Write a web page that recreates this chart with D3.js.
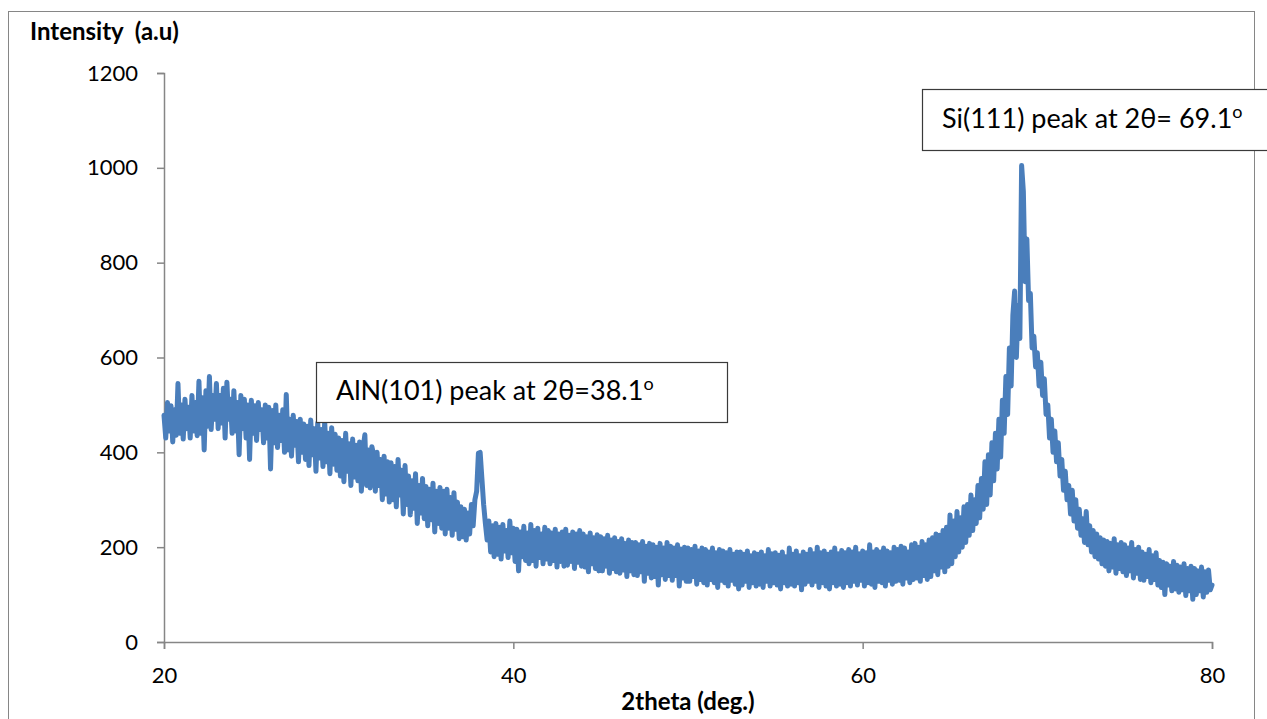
<!DOCTYPE html>
<html>
<head>
<meta charset="utf-8">
<script src="https://cdn.jsdelivr.net/npm/d3@7/dist/d3.min.js"></script>
<style>
  html, body { margin: 0; padding: 0; background: #fff; }
  svg { display: block; }
  text { font-family: Lato, "Open Sans", sans-serif; fill: #000; white-space: pre; }
</style>
</head>
<body>
<svg id="chart" width="1267" height="719"></svg>
<script>
// XRD scan: 2theta from 20 to 80 degrees, sampled every 0.1 degree
const scanStart = 20;
const scanStep = 0.1;

// Measured intensity (a.u.), one row per degree
const intensity = [
  // 20
  478, 430, 505, 445, 498, 422, 490, 436, 545, 440,
  // 21
  500, 428, 512, 450, 495, 430, 520, 445, 505, 435,
  // 22
  550, 440, 515, 405, 530, 455, 560, 448, 520, 470,
  // 23
  545, 450, 520, 462, 535, 430, 548, 470, 512, 440,
  // 24
  530, 445, 505, 395, 520, 450, 512, 430, 500, 385,
  // 25
  510, 440, 498, 425, 505, 448, 490, 420, 500, 430,
  // 26
  495, 365, 488, 420, 500, 410, 478, 425, 490, 400,
  // 27
  522, 405, 470, 392, 478, 415, 465, 380, 470, 400,
  // 28
  460, 385, 455, 372, 468, 395, 450, 360, 462, 388,
  // 29
  448, 370, 465, 380, 440, 355, 452, 375, 438, 362,
  // 30
  430, 350, 425, 338, 440, 360, 418, 330, 428, 348,
  // 31
  415, 340, 422, 318, 410, 437, 330, 405, 325, 412,
  // 32
  395, 318, 400, 330, 385, 300, 392, 312, 380, 295,
  // 33
  378, 300, 370, 285, 385, 310, 362, 270, 372, 290,
  // 34
  350, 268, 340, 282, 355, 250, 330, 272, 345, 260,
  // 35
  328, 245, 322, 258, 335, 232, 318, 250, 326, 240,
  // 36
  318, 228, 322, 240, 305, 225, 315, 238, 295, 218,
  // 37
  285, 222, 280, 215, 272, 228, 290, 245, 300, 318,
  // 38  (AlN 101 reflection)
  398, 400, 345, 290, 250, 215, 255, 190, 245, 180,
  // 39
  250, 185, 242, 175, 248, 192, 235, 178, 255, 188,
  // 40
  240, 170, 238, 150, 232, 180, 244, 172, 230, 165,
  // 41
  248, 172, 235, 160, 240, 178, 228, 165, 242, 175,
  // 42
  235, 165, 230, 172, 238, 158, 228, 170, 232, 160,
  // 43
  238, 162, 225, 170, 232, 155, 228, 168, 235, 160,
  // 44
  228, 158, 222, 148, 230, 165, 220, 155, 226, 150,
  // 45
  222, 150, 218, 160, 225, 145, 215, 155, 220, 148,
  // 46
  212, 145, 218, 152, 208, 138, 215, 150, 210, 142,
  // 47
  210, 140, 205, 148, 212, 128, 202, 145, 208, 135,
  // 48
  205, 138, 200, 120, 208, 142, 198, 132, 210, 140,
  // 49
  202, 130, 198, 140, 205, 118, 196, 135, 200, 128,
  // 50
  198, 128, 195, 138, 202, 122, 192, 132, 198, 125,
  // 51
  195, 120, 190, 132, 198, 125, 188, 115, 195, 130,
  // 52
  192, 125, 188, 118, 195, 130, 185, 122, 190, 112,
  // 53
  190, 120, 185, 128, 192, 115, 182, 125, 188, 118,
  // 54
  185, 122, 190, 115, 182, 128, 195, 118, 186, 125,
  // 55
  188, 120, 183, 112, 190, 125, 180, 118, 198, 122,
  // 56
  185, 118, 192, 125, 182, 110, 190, 122, 185, 128,
  // 57
  195, 120, 186, 128, 200, 115, 188, 125, 192, 118,
  // 58
  185, 112, 190, 125, 198, 118, 186, 122, 193, 115,
  // 59
  188, 125, 195, 118, 190, 128, 200, 120, 186, 130,
  // 60
  192, 118, 188, 125, 205, 122, 190, 115, 195, 128,
  // 61
  190, 125, 198, 118, 192, 130, 188, 122, 200, 128,
  // 62
  195, 130, 202, 122, 198, 135, 190, 125, 205, 132,
  // 63
  208, 135, 200, 128, 212, 140, 205, 132, 215, 138,
  // 64
  220, 150, 228, 142, 225, 158, 235, 148, 242, 160,
  // 65
  268, 165, 255, 180, 275, 190, 262, 200, 285, 210,
  // 66
  290, 225, 310, 235, 300, 250, 330, 262, 345, 280,
  // 67
  380, 290, 395, 310, 420, 340, 440, 365, 470, 390,
  // 68
  510, 440, 560, 480, 620, 540, 690, 740, 600, 710,
  // 69  (Si 111 reflection)
  640, 1005, 950, 760, 850, 720, 735, 620, 645, 580,
  // 70
  610, 540, 590, 520, 555, 480, 500, 430, 470, 400,
  // 71
  445, 380, 420, 350, 385, 320, 360, 300, 330, 270,
  // 72
  320, 255, 300, 240, 280, 225, 260, 210, 275, 205,
  // 73
  245, 190, 235, 180, 228, 175, 220, 165, 215, 160,
  // 74
  212, 150, 208, 158, 218, 145, 205, 155, 210, 148,
  // 75
  205, 140, 198, 150, 210, 135, 195, 145, 200, 132,
  // 76
  190, 130, 185, 138, 195, 125, 182, 132, 188, 120,
  // 77
  172, 115, 168, 100, 165, 120, 160, 108, 170, 112,
  // 78
  162, 105, 158, 110, 165, 98, 155, 108, 160, 90,
  // 79
  155, 100, 150, 108, 158, 95, 148, 105, 152, 110,
  // 80
  120
];

const xTicks = [20, 40, 60, 80];
const yTicks = [0, 200, 400, 600, 800, 1000, 1200];

const axisTitleY = "Intensity  (a.u)";
const axisTitleX = "2theta (deg.)";

// Peak annotations: label text, superscript
const peakLabels = ["AlN(101) peak at 2\u03b8=38.1", "Si(111) peak at 2\u03b8= 69.1"];
const peakSup = ["o", "o"];

const svg = d3.select("#chart");
const W = 1267, H = 719;
const margin = { left: 164, right: W - 1212, top: 73, bottom: H - 642 };

const x = d3.scaleLinear().domain([20, 80]).range([margin.left, W - margin.right]);
const y = d3.scaleLinear().domain([0, 1200]).range([H - margin.bottom, margin.top]);

const points = intensity.map((v, i) => [scanStart + i * scanStep, v]);

// Chart area frame
svg.append("rect")
  .attr("x", 8.5).attr("y", 11.5)
  .attr("width", 1246).attr("height", 760)
  .attr("fill", "#fff")
  .attr("stroke", "#868686").attr("stroke-width", 1);

// Axes
const axisColor = "#868686";
const yAxis = svg.append("g")
  .attr("transform", `translate(${x(20)},0)`)
  .call(d3.axisLeft(y).tickValues(yTicks).tickSize(7).tickPadding(19).tickFormat(d3.format("d")));
const xAxis = svg.append("g")
  .attr("transform", `translate(0,${y(0)})`)
  .call(d3.axisBottom(x).tickValues(xTicks).tickSize(7).tickPadding(18).tickFormat(d3.format("d")));

[yAxis, xAxis].forEach(g => {
  g.select(".domain").attr("stroke", axisColor).attr("stroke-width", 1.5);
  g.selectAll(".tick line").attr("stroke", axisColor).attr("stroke-width", 1.5);
  g.selectAll(".tick text")
    .attr("fill", "#000")
    .style("font-family", "Lato, 'Open Sans', sans-serif")
    .style("font-size", "22px");
});

// Diffraction trace
svg.append("path")
  .datum(points)
  .attr("fill", "none")
  .attr("stroke", "#4a7ebb")
  .attr("stroke-width", 5)
  .attr("stroke-linejoin", "round")
  .attr("stroke-linecap", "round")
  .attr("d", d3.line().x(d => x(d[0])).y(d => y(d[1])));

// Axis titles
svg.append("text")
  .attr("x", 30).attr("y", 40)
  .style("font-weight", "bold").style("font-size", "24px")
  .text(axisTitleY);
svg.append("text")
  .attr("x", (x(20) + x(80)) / 2).attr("y", 710)
  .attr("text-anchor", "middle")
  .style("font-weight", "bold").style("font-size", "24px")
  .text(axisTitleX);

// Annotation boxes
const boxes = [
  { x0: 316, y0: 362, w: 411, h: 60 },
  { x0: 922, y0: 89, w: 360, h: 61 }
];
boxes.forEach((b, i) => {
  const g = svg.append("g");
  g.append("rect")
    .attr("x", b.x0 + 0.5).attr("y", b.y0 + 0.5)
    .attr("width", b.w).attr("height", b.h)
    .attr("fill", "#fff").attr("stroke", "#3a3a3a").attr("stroke-width", 1.2);
  const t = g.append("text")
    .attr("x", b.x0 + 20).attr("y", b.y0 + b.h / 2 + 8)
    .style("font-size", "27px");
  t.append("tspan").text(peakLabels[i]);
  t.append("tspan").attr("dy", -10).style("font-size", "18px").text(peakSup[i]);
});
</script>
</body>
</html>
